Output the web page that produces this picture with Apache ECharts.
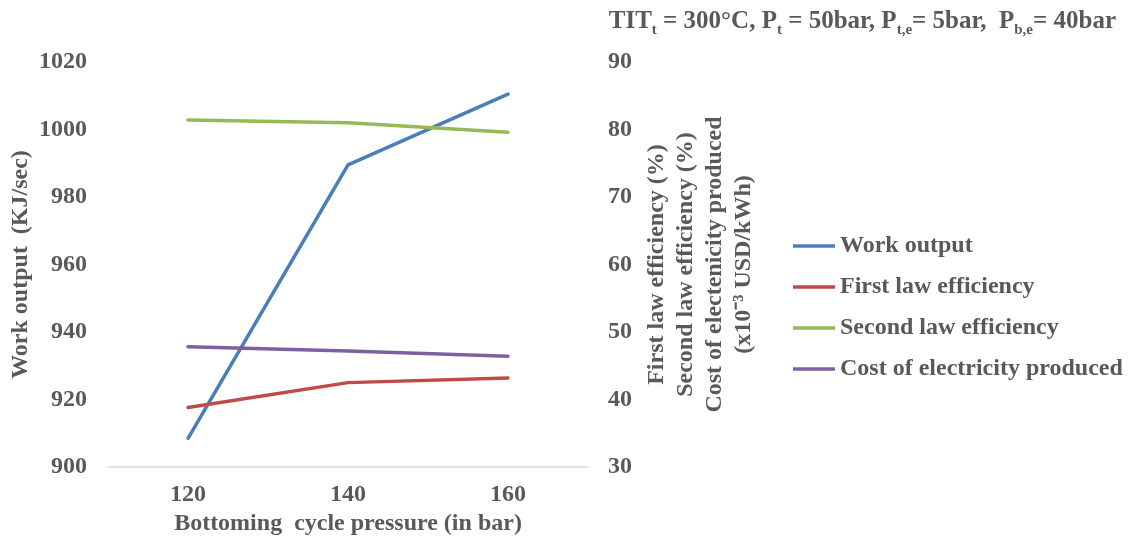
<!DOCTYPE html>
<html>
<head>
<meta charset="utf-8">
<script src="https://cdn.jsdelivr.net/npm/echarts@6/dist/echarts.min.js"></script>
<style>
  html, body { margin: 0; padding: 0; background: #fff; }
  #chart { width: 1134px; height: 551px; }
</style>
</head>
<body>
<div id="chart"></div>
<script>
// Bottoming cycle pressure (bar)
const pressures = ['120', '140', '160'];
// Work output (KJ/sec), left axis
const workOutput = [908.5, 989.5, 1010.5];
// Efficiencies (%) and cost (x10^-3 USD/kWh), right axis
const firstLawEff = [38.8, 42.5, 43.2];
const secondLawEff = [81.4, 81.0, 79.6];
const costElectricity = [47.8, 47.2, 46.4];

const leftTicks = { min: 900, max: 1020, interval: 20 };
const rightTicks = { min: 30, max: 90, interval: 10 };

const FONT = '"Liberation Serif", "Times New Roman", serif';
const TXT = '#595959';

const chart = echarts.init(document.getElementById('chart'), null, { renderer: 'canvas' });

const lineSeries = (name, data, color, yIdx) => ({
  name, type: 'line', data, yAxisIndex: yIdx,
  symbol: 'none', smooth: false,
  lineStyle: { color, width: 3.5, cap: 'round', join: 'round' },
  itemStyle: { color },
  emphasis: { disabled: true }
});

chart.setOption({
  animation: false,
  textStyle: { fontFamily: FONT, fontWeight: 'bold', color: TXT },
  title: {
    right: 13, top: 4,
    text: '{m|TIT}{s|t}{m| = 300°C, P}{s|t}{m| = 50bar, P}{s|t,e}{m|= 5bar,  P}{s|b,e}{m|= 40bar}',
    textStyle: {
      rich: {
        m: { fontFamily: FONT, fontWeight: 'bold', fontSize: 25, color: TXT, lineHeight: 29, verticalAlign: 'top' },
        s: { fontFamily: FONT, fontWeight: 'bold', fontSize: 15, color: TXT, lineHeight: 17, verticalAlign: 'bottom' }
      }
    }
  },
  grid: { left: 108, right: 546, top: 62, bottom: 84, containLabel: false },
  legend: {
    orient: 'vertical', left: 788, top: 229,
    icon: 'rect', itemWidth: 42, itemHeight: 3.5, itemGap: 17,
    textStyle: { fontFamily: FONT, fontWeight: 'bold', fontSize: 24, color: TXT, lineHeight: 24 },
    data: ['Work output', 'First law efficiency', 'Second law efficiency', 'Cost of electricity produced']
  },
  xAxis: {
    type: 'category', data: pressures, boundaryGap: true,
    name: 'Bottoming  cycle pressure (in bar)', nameLocation: 'middle', nameGap: 33,
    nameTextStyle: { fontFamily: FONT, fontWeight: 'bold', fontSize: 24, color: TXT },
    axisLine: { show: true, lineStyle: { color: '#d9d9d9', width: 1.5 } },
    axisTick: { show: false },
    axisLabel: { fontFamily: FONT, fontWeight: 'bold', fontSize: 24, color: TXT, margin: 16 },
    splitLine: { show: false }
  },
  yAxis: [
    {
      type: 'value', position: 'left', ...leftTicks,
      name: 'Work output  (KJ/sec)', nameLocation: 'middle', nameGap: 75, nameRotate: 90,
      nameTextStyle: { fontFamily: FONT, fontWeight: 'bold', fontSize: 24, color: TXT },
      axisLine: { show: false }, axisTick: { show: false }, splitLine: { show: false },
      axisLabel: { fontFamily: FONT, fontWeight: 'bold', fontSize: 24, color: TXT, margin: 21,
                   formatter: v => String(v) }
    },
    {
      type: 'value', position: 'right', ...rightTicks,
      name: 'First law efficiency (%)\nSecond law efficiency (%)\nCost of electenicity produced\n(x10\u207B\u00B3 USD/kWh)',
      nameLocation: 'middle', nameGap: 54, nameRotate: 90,
      nameTextStyle: { fontFamily: FONT, fontWeight: 'bold', fontSize: 24, color: TXT, lineHeight: 29, align: 'center' },
      axisLine: { show: false }, axisTick: { show: false }, splitLine: { show: false },
      axisLabel: { fontFamily: FONT, fontWeight: 'bold', fontSize: 24, color: TXT, margin: 20,
                   formatter: v => String(v) }
    }
  ],
  series: [
    lineSeries('Work output', workOutput, '#4a7ebb', 0),
    lineSeries('First law efficiency', firstLawEff, '#be4b48', 1),
    lineSeries('Second law efficiency', secondLawEff, '#98b954', 1),
    lineSeries('Cost of electricity produced', costElectricity, '#7d60a0', 1)
  ]
});
</script>
</body>
</html>
